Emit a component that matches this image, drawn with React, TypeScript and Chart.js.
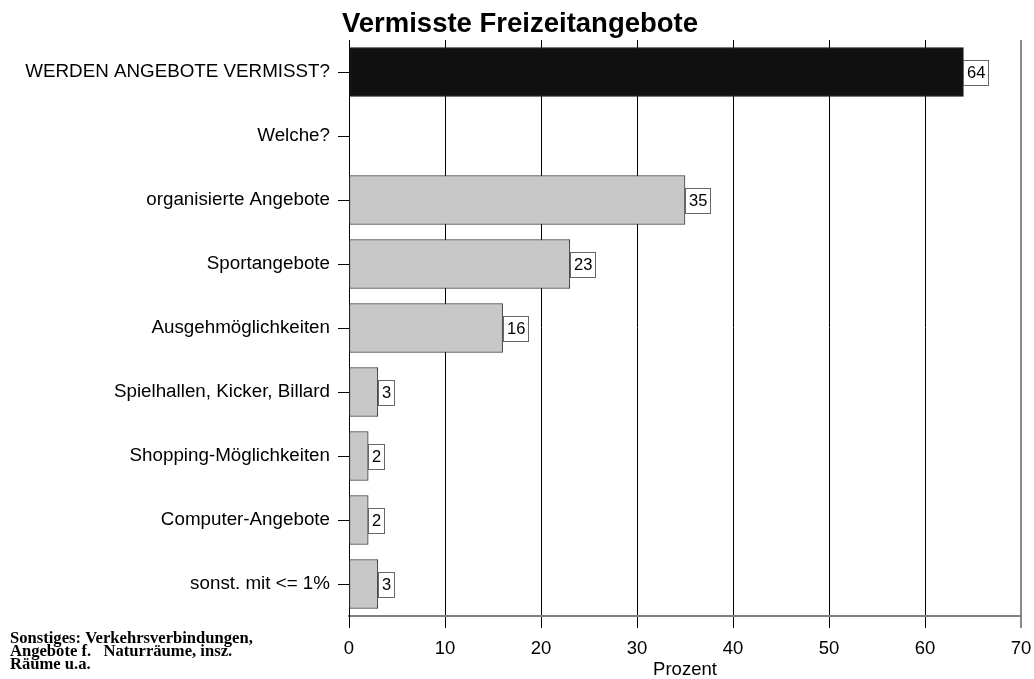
import React, { useEffect, useRef } from 'react';
import { Chart, registerables } from 'chart.js';

Chart.register(...registerables);

const categories = [
  'WERDEN ANGEBOTE VERMISST?',
  'Welche?',
  'organisierte Angebote',
  'Sportangebote',
  'Ausgehmöglichkeiten',
  'Spielhallen, Kicker, Billard',
  'Shopping-Möglichkeiten',
  'Computer-Angebote',
  'sonst. mit <= 1%',
];
const values: (number | null)[] = [64, null, 35, 23, 16, 3, 2, 2, 3];
const barColors = ['#111111', '#c8c8c8', '#c8c8c8', '#c8c8c8', '#c8c8c8', '#c8c8c8', '#c8c8c8', '#c8c8c8', '#c8c8c8'];
const xTicks = [0, 10, 20, 30, 40, 50, 60, 70];
const titleText = 'Vermisste Freizeitangebote';
const xAxisTitle = 'Prozent';
const footnoteLines = ['Sonstiges: Verkehrsverbindungen,', 'Angebote f.   Naturräume, insz.', 'Räume u.a.'];

const SANS = '"Liberation Sans", Arial, sans-serif';
const SERIF = '"Liberation Serif", "Times New Roman", serif';

const decorPlugin = {
  id: 'decor',
  afterDatasetsDraw(chart: any) {
    const ctx = chart.ctx;
    const meta = chart.getDatasetMeta(0);
    ctx.save();
    ctx.font = `16.5px ${SANS}`;
    ctx.textBaseline = 'middle';
    ctx.textAlign = 'left';
    meta.data.forEach((bar: any, i: number) => {
      const v = values[i];
      if (v === null || v === undefined || v === 0) return;
      const label = String(v);
      const tw = ctx.measureText(label).width;
      const w = Math.round(tw + 7);
      const h = 25;
      const x0 = Math.round(bar.x) + 0.5;
      const y0 = Math.round(bar.y - h / 2) + 0.5;
      ctx.fillStyle = '#ffffff';
      ctx.fillRect(x0, y0, w, h);
      ctx.strokeStyle = '#666666';
      ctx.lineWidth = 1;
      ctx.strokeRect(x0, y0, w, h);
      ctx.fillStyle = '#000000';
      ctx.fillText(label, x0 + 3.5, bar.y + 1);
    });
    ctx.restore();
  },
  afterDraw(chart: any) {
    const ctx = chart.ctx;
    ctx.save();
    ctx.fillStyle = '#000000';
    ctx.font = `bold 27.5px ${SANS}`;
    ctx.textAlign = 'center';
    ctx.textBaseline = 'alphabetic';
    ctx.fillText(titleText, 520, 32);
    ctx.font = `bold 16.6px ${SERIF}`;
    ctx.textAlign = 'left';
    footnoteLines.forEach((line, i) => {
      ctx.fillText(line, 10, 643 + i * 12.8);
    });
    ctx.restore();
  },
};

export default function App() {
  const canvasRef = useRef<HTMLCanvasElement | null>(null);

  useEffect(() => {
    const canvas = canvasRef.current;
    if (!canvas) return;
    const chart = new Chart(canvas, {
      type: 'bar',
      data: {
        labels: categories,
        datasets: [
          {
            data: values,
            backgroundColor: barColors,
            borderColor: barColors.map((c) => (c === '#111111' ? '#111111' : '#3a3a3a')),
            borderWidth: 1,
            borderSkipped: false,
            barThickness: 49,
          },
        ],
      },
      options: {
        indexAxis: 'y',
        responsive: false,
        animation: false,
        devicePixelRatio: 1,
        layout: { padding: { top: 40, right: 13, left: 0, bottom: 0 } },
        plugins: {
          legend: { display: false },
          title: { display: false },
          tooltip: { enabled: false },
        },
        scales: {
          x: {
            type: 'linear',
            position: 'bottom',
            min: 0,
            max: 70,
            afterBuildTicks: (s: any) => {
              s.ticks = xTicks.map((v) => ({ value: v }));
            },
            afterFit: (s: any) => {
              s.height = 63;
              s.paddingLeft = 0;
              s.paddingRight = 0;
            },
            grid: {
              color: (c: any) => (c.tick && c.tick.value === 70 ? '#888888' : '#000000'),
              lineWidth: (c: any) => (c.tick && c.tick.value === 70 ? 2 : 1),
              tickLength: 12,
              drawTicks: true,
            },
            border: { display: true, color: '#808080', width: 2 },
            ticks: {
              color: '#000000',
              font: { size: 18.5, family: SANS },
              padding: 10,
              maxRotation: 0,
            },
            title: {
              display: true,
              text: xAxisTitle,
              color: '#000000',
              font: { size: 18.5, family: SANS },
              padding: { top: 0, bottom: -2 },
            },
          },
          y: {
            type: 'category',
            afterFit: (s: any) => {
              s.width = 349;
            },
            grid: {
              offset: false,
              drawOnChartArea: false,
              drawTicks: true,
              tickLength: 11,
              color: '#000000',
            },
            border: { display: true, color: '#000000', width: 1 },
            ticks: {
              color: '#000000',
              font: { size: 18.8, family: SANS },
              padding: 8,
              autoSkip: false,
            },
          },
        },
      },
      plugins: [decorPlugin],
    } as any);
    return () => chart.destroy();
  }, []);

  return (
    <div style={{ position: 'absolute', left: 0, top: 0, width: 1034, height: 679, background: '#ffffff' }}>
      <canvas ref={canvasRef} width={1034} height={679} style={{ display: 'block', width: 1034, height: 679 }} />
    </div>
  );
}
